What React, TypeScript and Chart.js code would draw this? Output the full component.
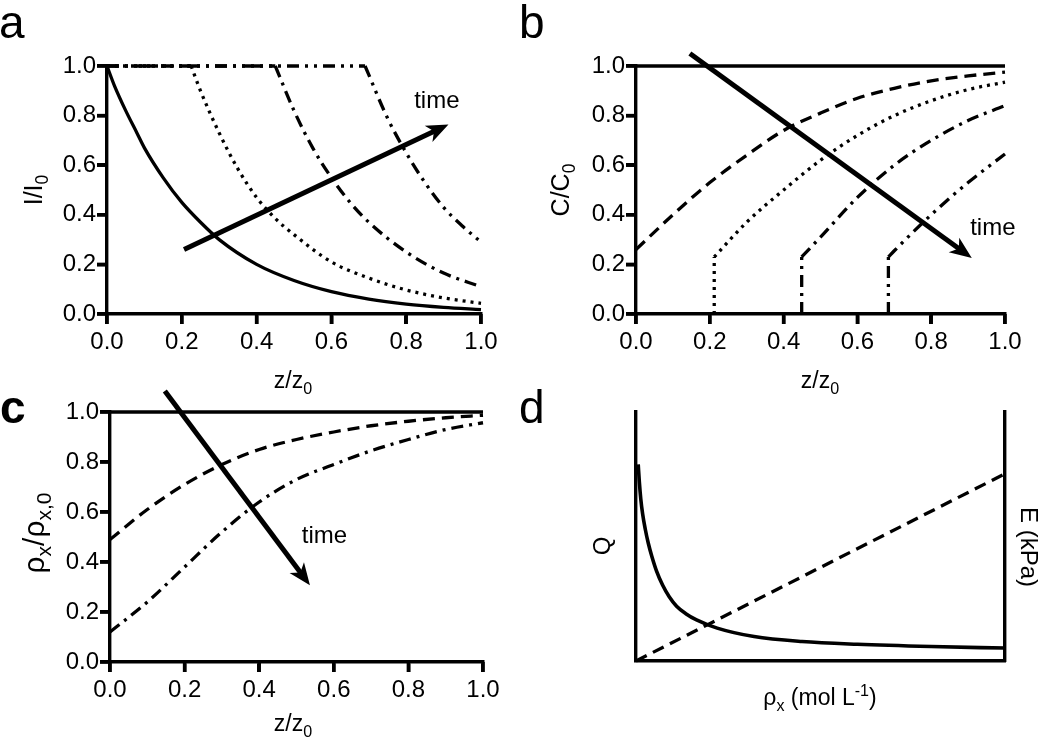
import React, { useEffect, useRef } from "react";
import { Chart, registerables } from "chart.js";

Chart.register(...registerables);

const FONT = "'Liberation Sans', Arial, Helvetica, sans-serif";
const INK = "#000000";

// ---------- Panel a : I/I0 vs z/z0 ----------
const aSolidX = [0, 0.02, 0.05, 0.08, 0.1, 0.15, 0.2, 0.25, 0.3, 0.4, 0.5, 0.6, 0.7, 0.8, 0.9, 1.0];
const aSolidY = [1.0, 0.92, 0.82, 0.73, 0.67, 0.55, 0.45, 0.37, 0.3, 0.2, 0.135, 0.09, 0.06, 0.04, 0.027, 0.018];
const aDotX = [0, 0.225, 0.25, 0.3, 0.35, 0.4, 0.45, 0.5, 0.6, 0.7, 0.8, 0.9, 1.0];
const aDotY = [1, 1, 0.9, 0.73, 0.585, 0.47, 0.385, 0.32, 0.21, 0.145, 0.097, 0.065, 0.043];
const aDashDotX = [0, 0.45, 0.5, 0.55, 0.6, 0.65, 0.7, 0.8, 0.9, 1.0];
const aDashDotY = [1, 1, 0.82, 0.67, 0.55, 0.45, 0.37, 0.25, 0.165, 0.11];
const aDashDotDotX = [0, 0.69, 0.75, 0.8, 0.85, 0.9, 0.95, 1.0];
const aDashDotDotY = [1, 1, 0.79, 0.65, 0.53, 0.43, 0.355, 0.29];
const aArrowX = [0.206, 0.913];
const aArrowY = [0.26, 0.764];
const aTimeAt = [0.882, 0.83];

// ---------- Panel b : C/C0 vs z/z0 ----------
const bSolidX = [0, 1];
const bSolidY = [1, 1];
const bDashX = [0, 0.1, 0.2, 0.3, 0.4, 0.5, 0.6, 0.7, 0.8, 0.9, 1.0];
const bDashY = [0.26, 0.4, 0.53, 0.64, 0.74, 0.81, 0.87, 0.91, 0.94, 0.96, 0.975];
const bDotX = [0.212, 0.212, 0.3, 0.4, 0.5, 0.6, 0.7, 0.8, 0.9, 1.0];
const bDotY = [0, 0.23, 0.37, 0.5, 0.62, 0.72, 0.8, 0.86, 0.905, 0.935];
const bDashDotX = [0.449, 0.449, 0.5, 0.6, 0.7, 0.8, 0.9, 1.0];
const bDashDotY = [0, 0.23, 0.31, 0.47, 0.6, 0.7, 0.78, 0.84];
const bDashDotDotX = [0.684, 0.684, 0.7, 0.8, 0.9, 1.0];
const bDashDotDotY = [0, 0.23, 0.255, 0.4, 0.53, 0.645];
const bArrowX = [0.146, 0.91];
const bArrowY = [1.05, 0.226];
const bTimeAt = [0.967, 0.318];

// ---------- Panel c : rho_x/rho_x,0 vs z/z0 ----------
const cSolidX = [0, 1];
const cSolidY = [1, 1];
const cDashX = [0, 0.1, 0.2, 0.3, 0.4, 0.5, 0.6, 0.7, 0.8, 0.9, 1.0];
const cDashY = [0.49, 0.61, 0.71, 0.79, 0.85, 0.89, 0.92, 0.945, 0.963, 0.977, 0.987];
const cDashDotX = [0, 0.1, 0.2, 0.3, 0.4, 0.5, 0.6, 0.7, 0.8, 0.9, 1.0];
const cDashDotY = [0.12, 0.24, 0.38, 0.52, 0.64, 0.73, 0.79, 0.845, 0.89, 0.93, 0.957];
const cArrowX = [0.147, 0.536];
const cArrowY = [1.084, 0.307];
const cTimeAt = [0.575, 0.475];

// ---------- Panel d : Q and E vs rho_x ----------
const dSolidX = [0.006, 0.009, 0.013, 0.018, 0.025, 0.033, 0.043, 0.056, 0.072, 0.09, 0.11, 0.135, 0.164, 0.22, 0.32, 0.45, 0.6, 0.8, 1.0];
const dSolidY = [0.79, 0.72, 0.65, 0.59, 0.53, 0.475, 0.42, 0.36, 0.305, 0.258, 0.22, 0.19, 0.165, 0.132, 0.098, 0.078, 0.067, 0.058, 0.052];
const dDashX = [0, 1];
const dDashY = [0, 0.752];

const tickValues = [0, 0.2, 0.4, 0.6, 0.8, 1.0];

const SOLID: number[] = [];
const DASH = [12, 7];
const DOT = [3, 5];
const DASHDOT = [12, 6, 3, 6];
const DASHDOTDOT = [12, 6, 3, 6, 3, 6];
const LW = 3.3;
const TICK_LEN = 10;
const TICK_W = 3.5;

type Run = { t: string; s?: "sub" | "sup" };
type TextItem = { runs: Run[]; x: number; y: number; size: number; rot?: number; weight?: string; align?: "left" | "center" };

function drawRich(ctx: CanvasRenderingContext2D, item: TextItem, ox: number, oy: number) {
  const { runs, size } = item;
  const weight = item.weight || "normal";
  const small = size * 0.7;
  ctx.save();
  ctx.translate(item.x - ox, item.y - oy);
  ctx.rotate(item.rot || 0);
  ctx.fillStyle = INK;
  ctx.textAlign = "left";
  ctx.textBaseline = "alphabetic";
  const widths = runs.map((r) => {
    ctx.font = `${weight} ${r.s ? small : size}px ${FONT}`;
    return ctx.measureText(r.t).width;
  });
  const total = widths.reduce((a, b) => a + b, 0);
  let x = item.align === "left" ? 0 : -total / 2;
  const base = size * 0.36;
  runs.forEach((r, i) => {
    ctx.font = `${weight} ${r.s ? small : size}px ${FONT}`;
    const dy = r.s === "sub" ? size * 0.25 : r.s === "sup" ? -size * 0.38 : 0;
    ctx.fillText(r.t, x, base + dy);
    x += widths[i];
  });
  ctx.restore();
}

function drawArrow(ctx: CanvasRenderingContext2D, x1: number, y1: number, x2: number, y2: number) {
  const dx = x2 - x1;
  const dy = y2 - y1;
  const len = Math.hypot(dx, dy);
  const ux = dx / len;
  const uy = dy / len;
  const nx = -uy;
  const ny = ux;
  const L = 22;
  const W = 9;
  const N = 6;
  const bx = x2 - ux * L;
  const by = y2 - uy * L;
  const mx = x2 - ux * (L - N);
  const my = y2 - uy * (L - N);
  ctx.save();
  ctx.setLineDash([]);
  ctx.strokeStyle = INK;
  ctx.lineWidth = 5;
  ctx.lineCap = "butt";
  ctx.beginPath();
  ctx.moveTo(x1, y1);
  ctx.lineTo(mx + ux * 2, my + uy * 2);
  ctx.stroke();
  ctx.fillStyle = INK;
  ctx.beginPath();
  ctx.moveTo(x2, y2);
  ctx.lineTo(bx + nx * W, by + ny * W);
  ctx.lineTo(mx, my);
  ctx.lineTo(bx - nx * W, by - ny * W);
  ctx.closePath();
  ctx.fill();
  ctx.restore();
}

function line(xs: number[], ys: number[], dash: number[], width = LW, yAxisID = "y", smooth = true) {
  return {
    data: xs.map((x, i) => ({ x, y: ys[i] })),
    borderColor: INK,
    backgroundColor: INK,
    borderWidth: width,
    borderDash: dash,
    pointRadius: 0,
    pointHoverRadius: 0,
    fill: false,
    tension: 0,
    cubicInterpolationMode: smooth ? "monotone" : "default",
    clip: false,
    yAxisID,
  };
}

// first segment straight (flat / vertical part), remainder a smooth curve
function kinked(xs: number[], ys: number[], dash: number[]) {
  return [line(xs.slice(0, 2), ys.slice(0, 2), dash, LW, "y", false), line(xs.slice(1), ys.slice(1), dash, LW, "y", true)];
}

type PanelSpec = {
  left: number;
  top: number;
  width: number;
  height: number;
  yWidth: number;
  y2Width?: number;
  padRight: number;
  padTop: number;
  xHeight: number;
  ticks: boolean;
  datasets: any[];
  texts: TextItem[];
  arrow?: { x: number[]; y: number[] };
  timeAt?: number[];
};

function tickOpts(show: boolean, pad: number) {
  return show
    ? {
        display: true,
        autoSkip: false,
        maxRotation: 0,
        padding: pad,
        color: INK,
        font: { family: FONT, size: 24 },
        callback: (v: any) => Number(v).toFixed(1),
      }
    : { display: false };
}

function gridOpts(show: boolean) {
  return show
    ? { display: true, drawOnChartArea: false, drawTicks: true, tickLength: TICK_LEN, color: INK, lineWidth: TICK_W }
    : { display: false };
}

function buildConfig(spec: PanelSpec): any {
  const decor = {
    id: "panelDecor",
    afterDraw(chart: any) {
      const ctx: CanvasRenderingContext2D = chart.ctx;
      const xs = chart.scales.x;
      const ys = chart.scales.y;
      // outward tick marks on both axes, drawn as filled bars at the scale's tick pixels
      if (spec.ticks) {
        const area = chart.chartArea;
        ctx.save();
        ctx.setLineDash([]);
        ctx.globalAlpha = 1;
        ctx.fillStyle = INK;
        tickValues.forEach((v) => {
          const px = xs.getPixelForValue(v);
          ctx.fillRect(px - TICK_W / 2, area.bottom, TICK_W, TICK_LEN);
          const py = ys.getPixelForValue(v);
          ctx.fillRect(area.left - TICK_LEN, py - TICK_W / 2, TICK_LEN, TICK_W);
        });
        ctx.restore();
      }
      spec.texts.forEach((t) => drawRich(ctx, t, spec.left, spec.top));
      if (spec.arrow) {
        drawArrow(
          ctx,
          xs.getPixelForValue(spec.arrow.x[0]),
          ys.getPixelForValue(spec.arrow.y[0]),
          xs.getPixelForValue(spec.arrow.x[1]),
          ys.getPixelForValue(spec.arrow.y[1])
        );
      }
      if (spec.timeAt) {
        ctx.save();
        ctx.fillStyle = INK;
        ctx.font = `24px ${FONT}`;
        ctx.textAlign = "center";
        ctx.textBaseline = "alphabetic";
        ctx.fillText("time", xs.getPixelForValue(spec.timeAt[0]), ys.getPixelForValue(spec.timeAt[1]));
        ctx.restore();
      }
    },
  };
  const scales: any = {
    x: {
      type: "linear",
      position: "bottom",
      min: 0,
      max: 1,
      afterBuildTicks: (s: any) => {
        s.ticks = tickValues.map((v) => ({ value: v }));
      },
      ticks: tickOpts(spec.ticks, 4),
      grid: gridOpts(spec.ticks),
      border: { display: true, color: INK, width: 3.4 },
      afterFit: (s: any) => {
        s.height = spec.xHeight;
      },
    },
    y: {
      type: "linear",
      position: "left",
      min: 0,
      max: 1,
      afterBuildTicks: (s: any) => {
        s.ticks = tickValues.map((v) => ({ value: v }));
      },
      ticks: tickOpts(spec.ticks, 1),
      grid: gridOpts(spec.ticks),
      border: { display: true, color: INK, width: 3.4 },
      afterFit: (s: any) => {
        s.width = spec.yWidth;
      },
    },
  };
  if (spec.y2Width) {
    scales.y2 = {
      type: "linear",
      position: "right",
      min: 0,
      max: 1,
      ticks: { display: false },
      grid: { display: false },
      border: { display: true, color: INK, width: 3.4 },
      afterFit: (s: any) => {
        s.width = spec.y2Width;
      },
    };
  }
  return {
    type: "line",
    data: { datasets: spec.datasets },
    options: {
      responsive: false,
      maintainAspectRatio: false,
      animation: false,
      devicePixelRatio: 1,
      events: [],
      layout: { padding: { left: 0, right: spec.padRight, top: spec.padTop, bottom: 0 } },
      plugins: { legend: { display: false }, tooltip: { enabled: false }, title: { display: false } },
      scales,
    },
    plugins: [decor],
  };
}

const zTitle: Run[] = [{ t: "z/z" }, { t: "0", s: "sub" }];

const panels: PanelSpec[] = [
  {
    left: 0,
    top: 0,
    width: 520,
    height: 400,
    yWidth: 107,
    padRight: 39,
    padTop: 66,
    xHeight: 86,
    ticks: true,
    datasets: [
      line(aSolidX, aSolidY, SOLID),
      ...kinked(aDotX, aDotY, DOT),
      ...kinked(aDashDotX, aDashDotY, DASHDOT),
      ...kinked(aDashDotDotX, aDashDotDotY, DASHDOTDOT),
    ],
    texts: [
      { runs: [{ t: "a" }], x: -1, y: 21.4, size: 46, align: "left" },
      { runs: [{ t: "I/I" }, { t: "0", s: "sub" }], x: 33, y: 190, size: 25, rot: -Math.PI / 2 },
      { runs: zTitle, x: 293, y: 379.7, size: 23 },
    ],
    arrow: { x: aArrowX, y: aArrowY },
    timeAt: aTimeAt,
  },
  {
    left: 520,
    top: 0,
    width: 530,
    height: 400,
    yWidth: 116,
    padRight: 45,
    padTop: 66,
    xHeight: 86,
    ticks: true,
    datasets: [
      line(bSolidX, bSolidY, SOLID, LW, "y", false),
      line(bDashX, bDashY, DASH),
      ...kinked(bDotX, bDotY, DOT),
      ...kinked(bDashDotX, bDashDotY, DASHDOT),
      ...kinked(bDashDotDotX, bDashDotDotY, DASHDOTDOT),
    ],
    texts: [
      { runs: [{ t: "b" }], x: 519, y: 21.4, size: 46, align: "left" },
      { runs: [{ t: "C/C" }, { t: "0", s: "sub" }], x: 560, y: 190, size: 25, rot: -Math.PI / 2 },
      { runs: zTitle, x: 820, y: 379.7, size: 23 },
    ],
    arrow: { x: bArrowX, y: bArrowY },
    timeAt: bTimeAt,
  },
  {
    left: 0,
    top: 372,
    width: 520,
    height: 372,
    yWidth: 110,
    padRight: 37,
    padTop: 40,
    xHeight: 82,
    ticks: true,
    datasets: [
      line(cSolidX, cSolidY, SOLID, LW, "y", false),
      line(cDashX, cDashY, DASH),
      line(cDashDotX, cDashDotY, DASHDOT),
    ],
    texts: [
      { runs: [{ t: "c" }], x: 0, y: 406.4, size: 46, align: "left", weight: "bold" },
      {
        runs: [{ t: "ρ" }, { t: "x", s: "sub" }, { t: "/ρ" }, { t: "x,0", s: "sub" }],
        x: 33,
        y: 533,
        size: 30,
        rot: -Math.PI / 2,
      },
      { runs: zTitle, x: 293, y: 722.7, size: 23 },
    ],
    arrow: { x: cArrowX, y: cArrowY },
    timeAt: cTimeAt,
  },
  {
    left: 520,
    top: 372,
    width: 530,
    height: 372,
    yWidth: 116,
    y2Width: 45,
    padRight: 0,
    padTop: 40,
    xHeight: 83,
    ticks: false,
    datasets: [line(dSolidX, dSolidY, SOLID, 3.6, "y", true), line(dDashX, dDashY, DASH, LW, "y2", false)],
    texts: [
      { runs: [{ t: "d" }], x: 519, y: 406.4, size: 46, align: "left" },
      { runs: [{ t: "Q" }], x: 601, y: 546, size: 24, rot: -Math.PI / 2 },
      { runs: [{ t: "E (kPa)" }], x: 1030, y: 547, size: 24, rot: Math.PI / 2 },
      {
        runs: [{ t: "ρ" }, { t: "x", s: "sub" }, { t: " (mol L" }, { t: "-1", s: "sup" }, { t: ")" }],
        x: 820,
        y: 696.7,
        size: 23,
      },
    ],
  },
];

function Panel({ spec }: { spec: PanelSpec }) {
  const ref = useRef<HTMLCanvasElement>(null);
  useEffect(() => {
    const chart = new Chart(ref.current as HTMLCanvasElement, buildConfig(spec));
    return () => chart.destroy();
  }, [spec]);
  return (
    <canvas
      ref={ref}
      width={spec.width}
      height={spec.height}
      style={{ position: "absolute", left: spec.left, top: spec.top, width: spec.width, height: spec.height }}
    />
  );
}

export default function App() {
  return (
    <div style={{ position: "fixed", left: 0, top: 0, width: 1050, height: 744, background: "#ffffff" }}>
      {panels.map((p, i) => (
        <Panel key={i} spec={p} />
      ))}
    </div>
  );
}
